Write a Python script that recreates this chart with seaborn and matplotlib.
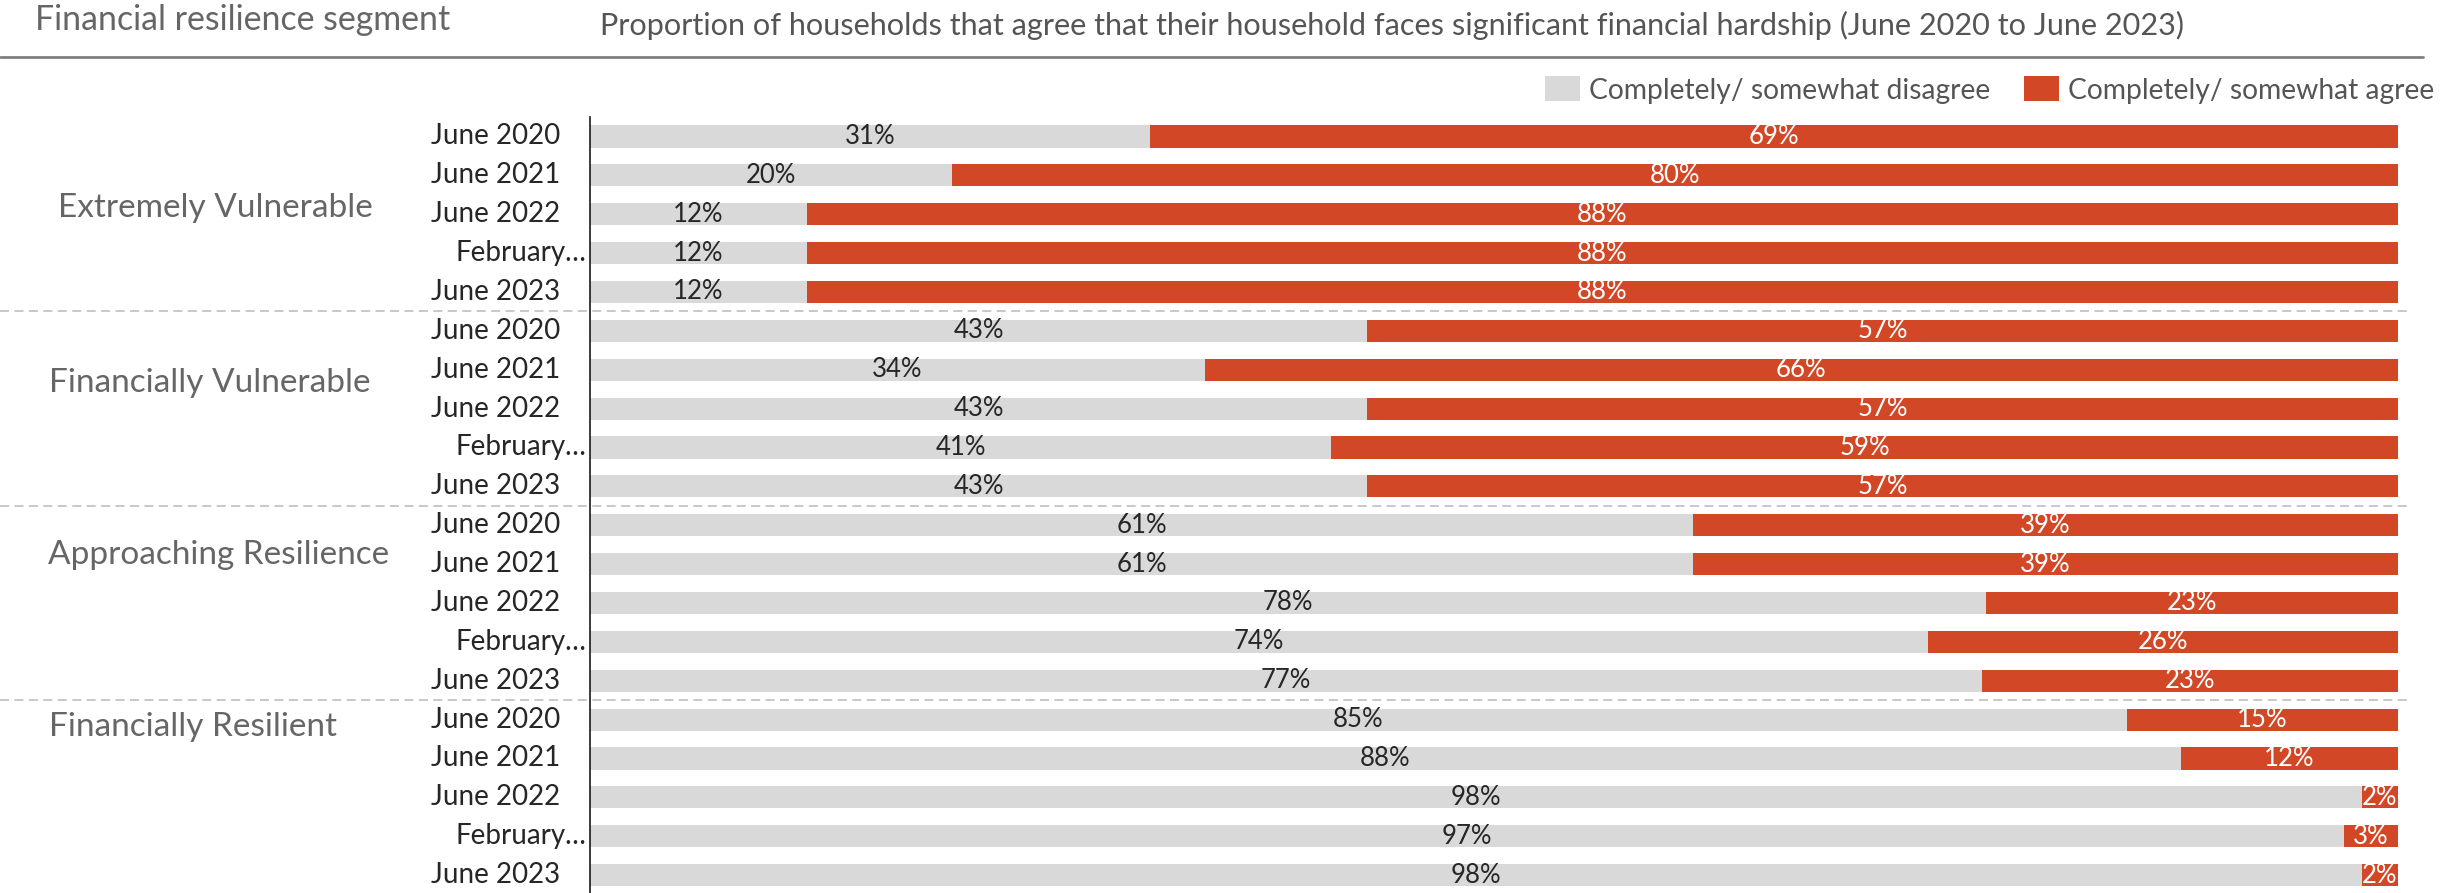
import matplotlib.pyplot as plt
import matplotlib.transforms as mtransforms
from matplotlib.patches import Patch
import pandas as pd
import seaborn as sns

sns.set_theme(style="white")
plt.rcParams["font.family"] = ["Lato", "DejaVu Sans"]

SEGMENTS = [
    "Extremely Vulnerable",
    "Financially Vulnerable",
    "Approaching Resilience",
    "Financially Resilient",
]
PERIODS = ["June 2020", "June 2021", "June 2022", "February\u2026", "June 2023"]

DISAGREE = [
    31, 20, 12, 12, 12,
    43, 34, 43, 41, 43,
    61, 61, 78, 74, 77,
    85, 88, 98, 97, 98,
]
AGREE = [
    69, 80, 88, 88, 88,
    57, 66, 57, 59, 57,
    39, 39, 23, 26, 23,
    15, 12, 2, 3, 2,
]

GREY = "#d9d9d9"
RED = "#d24827"
W, H = 2453, 893


def build_frame() -> pd.DataFrame:
    rows = []
    i = 0
    for seg in SEGMENTS:
        for per in PERIODS:
            d, a = DISAGREE[i], AGREE[i]
            tot = d + a
            rows.append({
                "key": f"{seg}|{per}",
                "segment": seg,
                "period": per,
                "disagree": d,
                "agree": a,
                "dis_share": d / tot * 100,
                "total_share": tot / tot * 100,
            })
            i += 1
    return pd.DataFrame(rows)


df = build_frame()
keys = list(df["key"])

fig = plt.figure(figsize=(W / 100, H / 100), dpi=100)
ax = fig.add_axes([590 / W, 0, (2398 - 590) / W, 1 - 117 / H])

# red covers the full row, grey sits on top for the disagree share
sns.barplot(data=df, x="total_share", y="key", order=keys, color=RED,
            width=0.57, orient="h", errorbar=None, ax=ax, saturation=1,
            linewidth=0)
sns.barplot(data=df, x="dis_share", y="key", order=keys, color=GREY,
            width=0.57, orient="h", errorbar=None, ax=ax, saturation=1,
            linewidth=0)

ax.set_xlim(0, 100)
ax.set_ylim(19.46, -0.5)
ax.set_xlabel("")
ax.set_ylabel("")
ax.set_xticks([])
ax.set_yticks([])
for side in ["top", "right", "bottom"]:
    ax.spines[side].set_visible(False)
ax.spines["left"].set_color("#1a1a1a")
ax.spines["left"].set_linewidth(1.2)

# value labels
for i, row in df.iterrows():
    ax.text(row["dis_share"] / 2, i, f"{row['disagree']}%", ha="center",
            va="center", fontsize=18.5, color="#262626")
    ax.text(row["dis_share"] + (100 - row["dis_share"]) / 2, i,
            f"{row['agree']}%", ha="center", va="center", fontsize=18.5,
            color="white")

# period labels (right aligned left of the axis)
for i, row in df.iterrows():
    off = -4 if row["period"].endswith("\u2026") else -30
    ax.annotate(row["period"], xy=(0, i), xycoords=("axes fraction", "data"),
                xytext=(off * 0.72, 0), textcoords="offset points",
                ha="right", va="center", fontsize=20, color="#262626",
                annotation_clip=False)

# segment labels
seg_pos = [(58, 1.84), (49, 6.34), (48, 10.76), (49, 15.18)]
for seg, (px, yy) in zip(SEGMENTS, seg_pos):
    ax.annotate(seg, xy=(px / W, yy), xycoords=("figure fraction", "data"),
                ha="left", va="center", fontsize=24, color="#666666",
                annotation_clip=False)

# dashed separators between segments
blend = mtransforms.blended_transform_factory(fig.transFigure, ax.transData)
for yy in [4.5, 9.5, 14.5]:
    ax.plot([0, 2412 / W], [yy, yy], transform=blend, color="#c4c4c4",
            lw=1.3, ls=(0, (5, 3)), clip_on=False)

# header
fig.text(35 / W, 1 - 30 / H, "Financial resilience segment", ha="left",
         va="baseline", fontsize=24.4, color="#666666")
fig.text(600 / W, 1 - 35 / H,
         "Proportion of households that agree that their household faces "
         "significant financial hardship (June 2020 to June 2023)",
         ha="left", va="baseline", fontsize=22.1, color="#555555")
fig.add_artist(plt.Line2D([0, 2423 / W], [1 - 57 / H, 1 - 57 / H],
                          color="#808080", lw=2, transform=fig.transFigure))

handles = [Patch(facecolor=GREY, edgecolor="none"),
           Patch(facecolor=RED, edgecolor="none")]
fig.legend(handles, ["Completely/ somewhat disagree", "Completely/ somewhat agree"],
           loc="center right", bbox_to_anchor=(2434 / W, 1 - 90 / H),
           ncol=2, frameon=False, fontsize=20.3, handlelength=1.26,
           handleheight=0.97, handletextpad=0.3, columnspacing=1.2,
           borderpad=0, borderaxespad=0, labelcolor="#555555")

fig.savefig("out.png", dpi=100)
